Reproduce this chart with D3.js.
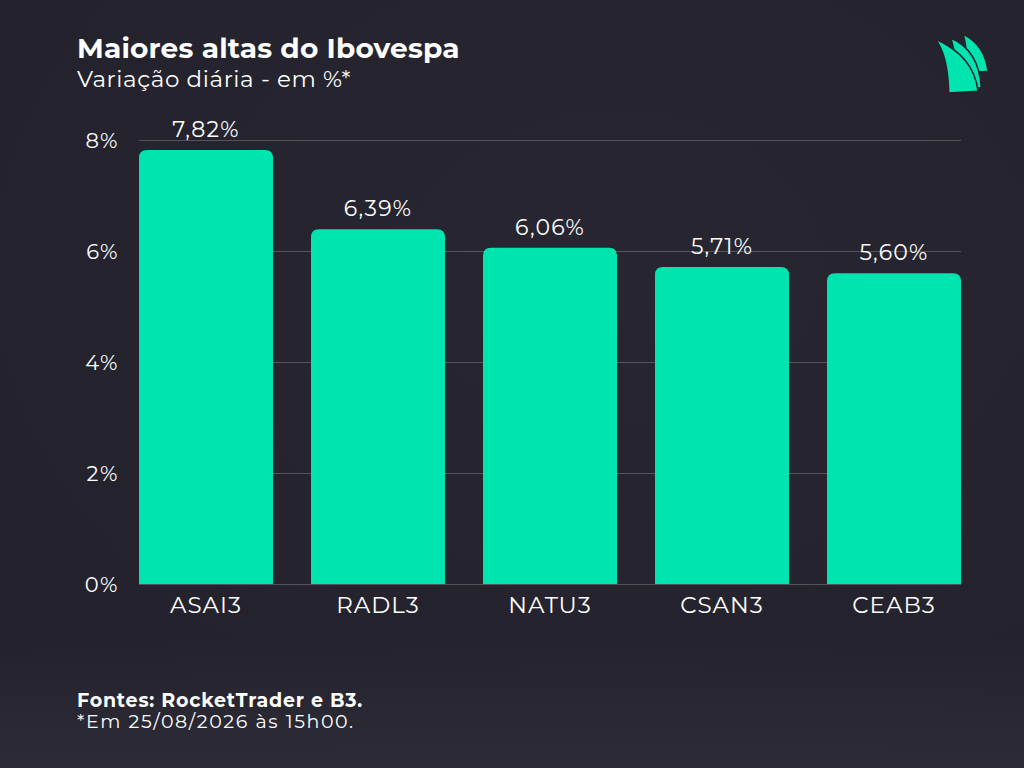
<!DOCTYPE html>
<html>
<head>
<meta charset="utf-8">
<script src="https://cdn.jsdelivr.net/npm/d3@7/dist/d3.min.js"></script>
<style>
  html, body { margin: 0; padding: 0; background: #24232d; }
  svg, svg text { font-family: "Montserrat", Inter, "Open Sans", sans-serif; }
</style>
</head>
<body>
<div id="graph"></div>
<script>
// data
var tickers = ["ASAI3", "RADL3", "NATU3", "CSAN3", "CEAB3"];
var variacao = [7.82, 6.39, 6.06, 5.71, 5.60];
var yTicks = [0, 2, 4, 6, 8];

var W = 1024, H = 768;
var margin = { top: 140, right: 63, bottom: 184, left: 139 },
    width = W - margin.left - margin.right,
    height = H - margin.top - margin.bottom;

var svg = d3.select("#graph").append("svg")
    .attr("width", W)
    .attr("height", H);

// background, dark with a soft glow
var defs = svg.append("defs");
var grad = defs.append("radialGradient").attr("id", "bg")
    .attr("cx", "60%").attr("cy", "35%").attr("r", "80%");
grad.append("stop").attr("offset", "0%").attr("stop-color", "#282731");
grad.append("stop").attr("offset", "100%").attr("stop-color", "#23222c");
svg.append("rect").attr("width", W).attr("height", H).attr("fill", "url(#bg)");
var low = defs.append("linearGradient").attr("id", "low")
    .attr("x1", 0).attr("y1", 0).attr("x2", 0).attr("y2", 1);
low.append("stop").attr("offset", "0%").attr("stop-color", "#2c2b37").attr("stop-opacity", 0);
low.append("stop").attr("offset", "100%").attr("stop-color", "#2c2b37").attr("stop-opacity", 1);
svg.append("rect").attr("y", 640).attr("width", W).attr("height", 128).attr("fill", "url(#low)");

var x = d3.scaleBand()
    .domain(tickers)
    .range([0, width])
    .paddingInner(0.221)
    .paddingOuter(0);

var y = d3.scaleLinear()
    .domain([0, 8])
    .range([height, 0]);

var g = svg.append("g")
    .attr("transform", "translate(" + margin.left + "," + margin.top + ")");

// gridlines
g.selectAll(".grid")
    .data(yTicks)
    .enter().append("line")
    .attr("x1", 0)
    .attr("x2", width)
    .attr("y1", function (d) { return y(d) + 0.5; })
    .attr("y2", function (d) { return y(d) + 0.5; })
    .attr("stroke", "#ffffff")
    .attr("stroke-opacity", 0.22)
    .attr("stroke-width", 1);

// y tick labels
var yAxis = d3.axisLeft(y)
    .tickValues(yTicks)
    .tickSize(0)
    .tickPadding(20)
    .tickFormat(function (d) { return d + "%"; });

var ya = g.append("g").call(yAxis).attr("font-family", null);
ya.select(".domain").remove();
ya.selectAll("text")
    .attr("fill", "#ffffff")
    .style("font-size", "21px")
    .style("letter-spacing", "1.5px")
    .attr("dy", "0.36em");

// bars with rounded tops
var r = 8;
function barPath(d, i) {
    var x0 = x(tickers[i]), x1 = x0 + x.bandwidth();
    var y0 = y(0), y1 = y(d);
    return "M" + x0 + "," + y0 +
        "V" + (y1 + r) +
        "Q" + x0 + "," + y1 + " " + (x0 + r) + "," + y1 +
        "H" + (x1 - r) +
        "Q" + x1 + "," + y1 + " " + x1 + "," + (y1 + r) +
        "V" + y0 + "Z";
}

g.selectAll(".bar")
    .data(variacao)
    .enter().append("path")
    .attr("class", "bar")
    .attr("d", barPath)
    .attr("fill", "#00e5b0");

// value labels
g.selectAll(".val")
    .data(variacao)
    .enter().append("text")
    .attr("x", function (d, i) { return x(tickers[i]) + x.bandwidth() / 2; })
    .attr("y", function (d) { return y(d) - 13; })
    .attr("text-anchor", "middle")
    .attr("fill", "#ffffff")
    .style("font-size", "22px")
    .style("letter-spacing", "1.2px")
    .text(function (d) { return d.toFixed(2).replace(".", ",") + "%"; });

// category labels
var xAxis = d3.axisBottom(x).tickSize(0).tickPadding(0);
var xa = g.append("g")
    .attr("transform", "translate(0," + height + ")")
    .call(xAxis)
    .attr("font-family", null);
xa.select(".domain").remove();
xa.selectAll("text")
    .attr("fill", "#ffffff")
    .attr("y", 29)
    .attr("dy", 0)
    .style("font-size", "23px")
    .style("letter-spacing", "1px");

// titles
svg.append("text")
    .attr("x", 77).attr("y", 58)
    .attr("fill", "#ffffff")
    .style("font-size", "28px")
    .style("font-weight", "700")
    .style("letter-spacing", "0.2px")
    .text("Maiores altas do Ibovespa");

svg.append("text")
    .attr("x", 77).attr("y", 87)
    .attr("fill", "#ffffff")
    .style("font-size", "23px")
    .style("letter-spacing", "0.6px")
    .text("Variação diária - em %*");

// footer
svg.append("text")
    .attr("x", 77).attr("y", 707)
    .attr("fill", "#ffffff")
    .style("font-size", "19px")
    .style("font-weight", "700")
    .style("letter-spacing", "0.8px")
    .text("Fontes: RocketTrader e B3.");

svg.append("text")
    .attr("x", 77).attr("y", 728)
    .attr("fill", "#ffffff")
    .style("font-size", "19px")
    .style("letter-spacing", "1.6px")
    .text("*Em 25/08/2026 às 15h00.");

// logo: three sails (back to front)
var logo = svg.append("g").attr("fill", "#00e5b0")
    .attr("stroke", "#24232d").attr("stroke-width", 1.5).attr("stroke-linejoin", "round");
logo.append("path")
    .attr("d", "M963,34 Q967,46 967.3,73 L988,71.3 Q985,45 963,34 Z");
logo.append("path")
    .attr("d", "M950.7,38 Q956,52 956.3,86.3 L981.3,88 Q979,50 950.7,38 Z");
logo.append("path")
    .attr("d", "M935.3,39 Q948,55 948.7,93 L978,91.3 Q974,56 935.3,39 Z");
</script>
</body>
</html>
